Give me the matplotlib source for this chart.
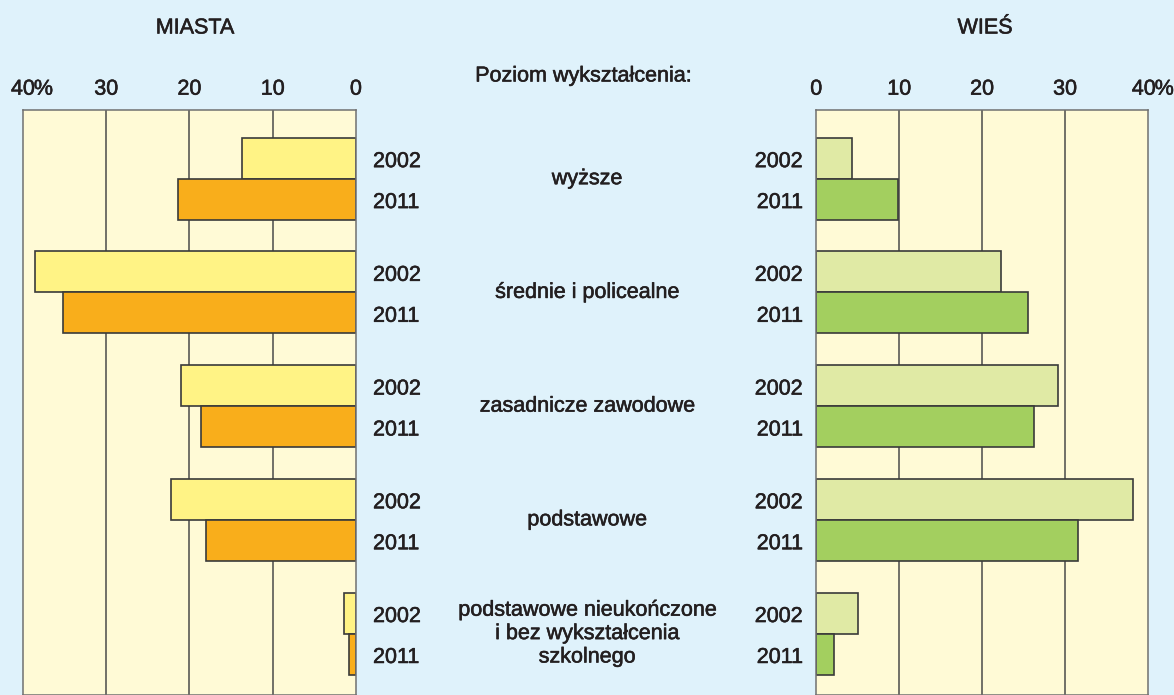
import matplotlib
matplotlib.use("Agg")
import matplotlib.pyplot as plt
import matplotlib.patheffects as pe
from matplotlib.transforms import blended_transform_factory
import numpy as np

plt.rcParams['font.family'] = ['Liberation Sans', 'DejaVu Sans']

categories = ["wyższe", "średnie i policealne", "zasadnicze zawodowe", "podstawowe",
              "podstawowe nieukończone\ni bez wykształcenia\nszkolnego"]
years = ["2002", "2011"]
miasta_2002 = [13.7, 38.6, 21.0, 22.2, 1.5]
miasta_2011 = [21.4, 35.2, 18.6, 18.0, 0.9]
wies_2002 = [4.3, 22.3, 29.1, 38.2, 5.0]
wies_2011 = [9.9, 25.5, 26.3, 31.6, 2.1]
ticks = [0, 10, 20, 30, 40]
tick_labels = ["0", "10", "20", "30", "40"]

BG = "#dff2fb"
PANEL = "#fffad6"
TXT = "#231f20"
EDGE = "#3a3a3a"
FS = 15.5
PE = [pe.withStroke(linewidth=0.4, foreground=TXT)]
tk = dict(fontsize=FS, color=TXT, path_effects=PE)

W, H = 1174, 695
fig = plt.figure(figsize=(W / 100, H / 100), dpi=100, facecolor=BG)

def fx(px):
    return px / W

def fy(py):
    return 1 - py / H

top_px, bot_px = 110, 695
axL = fig.add_axes([fx(23), fy(bot_px), fx(356) - fx(23), fy(top_px) - fy(bot_px)])
axR = fig.add_axes([fx(816.3), fy(bot_px), fx(1148) - fx(816.3), fy(top_px) - fy(bot_px)])

y = np.arange(len(categories))
bh = 0.36

for ax, v02, v11, c02, c11, inv in [
    (axL, miasta_2002, miasta_2011, "#fff385", "#f9ae1b", True),
    (axR, wies_2002, wies_2011, "#e0eaa5", "#a3cf5f", False),
]:
    ax.set_facecolor(PANEL)
    for g in [10, 20, 30]:
        ax.axvline(g, color="#4a4a4a", lw=1.1, zorder=1)
    ax.barh(y - bh / 2, v02, height=bh, color=c02, edgecolor=EDGE, linewidth=1.2, zorder=2)
    ax.barh(y + bh / 2, v11, height=bh, color=c11, edgecolor=EDGE, linewidth=1.2, zorder=2)
    ax.set_ylim(4.54, -0.604)
    if inv:
        ax.set_xlim(40, 0)
    else:
        ax.set_xlim(0, 40)
    ax.set_yticks([])
    ax.set_xticks([])
    for s in ax.spines.values():
        s.set_color("#707070")
        s.set_linewidth(1.1)
    shift = 0 if inv else -3.0
    for t, lab in zip(ticks, tick_labels):
        dx = shift if t == 40 else 0
        ax.annotate(lab, xy=(t, 1), xycoords=('data', 'axes fraction'),
                    xytext=(dx, 15), textcoords='offset points',
                    ha='center', va='center', annotation_clip=False, **tk)
    # percent sign after "40"
    ax.annotate("%", xy=(40, 1), xycoords=('data', 'axes fraction'),
                xytext=(7.8 + shift, 15), textcoords='offset points',
                ha='left', va='center', annotation_clip=False, **tk)

# titles
fig.text(fx(195), fy(28), "MIASTA", ha='center', va='center', **tk)
fig.text(fx(985), fy(28), "WIEŚ", ha='center', va='center', **tk)
fig.text(fx(583), fy(76), "Poziom wykształcenia:", ha='center', va='center', **tk)

trL = blended_transform_factory(fig.transFigure, axL.transData)
for i, cat in enumerate(categories):
    for j, yr in enumerate(years):
        yy = i - bh / 2 if j == 0 else i + bh / 2
        fig.text(fx(373), yy + 0.03, yr, transform=trL, ha='left', va='center', **tk)
        fig.text(fx(803), yy + 0.03, yr, transform=trL, ha='right', va='center', **tk)
    fig.text(fx(587), i, cat, transform=trL, ha='center', va='center',
             linespacing=1.15, **tk)

fig.savefig("out.png", dpi=100, facecolor=BG)
